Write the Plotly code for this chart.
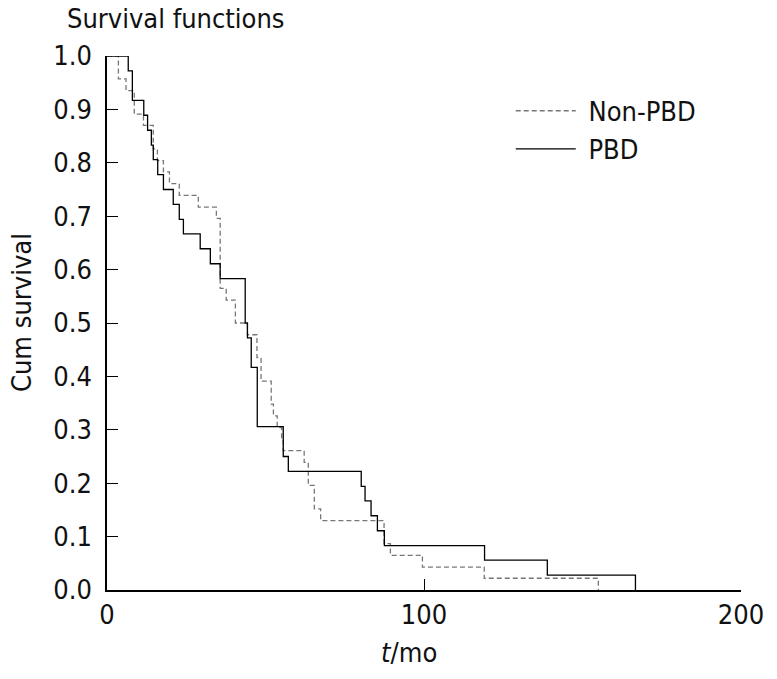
import plotly.graph_objects as go

# Kaplan-Meier step data
pbd_t = [0, 6.7, 8.0, 11.6, 12.8, 14.0, 14.6, 16.0, 17.8, 20.9, 22.8, 24.1, 29.4, 32.6,
         35.7, 43.6, 44.3, 45.5, 47.4, 55.6, 57.2, 80.2, 81.4, 83.3, 85.3, 87.5,
         119.1, 138.9, 166.7]
pbd_s = [1.0, 0.972, 0.917, 0.889, 0.861, 0.833, 0.806, 0.778, 0.750, 0.722, 0.694, 0.667,
         0.639, 0.611, 0.583, 0.500, 0.472, 0.417, 0.306, 0.250, 0.222, 0.194, 0.167,
         0.139, 0.111, 0.083, 0.056, 0.028, 0.0]

non_t = [0, 3.6, 6.0, 8.6, 11.5, 14.6, 15.9, 17.8, 19.7, 22.8, 28.8, 34.5, 35.7, 37.6,
         40.5, 44.3, 47.3, 48.6, 51.8, 52.5, 53.7, 55.1, 55.6, 62.2, 63.5, 65.4, 67.4,
         87.4, 89.4, 99.5, 119.0, 155.0]
non_s = [1.0, 0.957, 0.935, 0.891, 0.870, 0.826, 0.804, 0.783, 0.761, 0.739, 0.717, 0.696,
         0.565, 0.543, 0.500, 0.478, 0.435, 0.391, 0.348, 0.326, 0.304, 0.283, 0.261,
         0.239, 0.196, 0.152, 0.130, 0.087, 0.065, 0.043, 0.022, 0.0]

series_names = ["Non-PBD", "PBD"]

x_ticks = [0, 100, 200]
y_ticks = [0.0, 0.1, 0.2, 0.3, 0.4, 0.5, 0.6, 0.7, 0.8, 0.9, 1.0]
y_tick_text = [f"{v:.1f}" for v in y_ticks]

FONT = "DejaVu Sans Condensed, DejaVu Sans, sans-serif"
FS = 27

fig = go.Figure()
fig.add_trace(go.Scatter(x=non_t, y=non_s, mode="lines", line_shape="hv",
                         name="\u00a0" + series_names[0],
                         line=dict(color="#777777", width=1.3, dash="5px,3px")))
fig.add_trace(go.Scatter(x=pbd_t, y=pbd_s, mode="lines", line_shape="hv",
                         name="\u00a0" + series_names[1],
                         line=dict(color="black", width=1.3)))

fig.update_layout(
    width=777, height=679,
    margin=dict(l=107, r=36, t=56, b=89),
    paper_bgcolor="white", plot_bgcolor="white",
    font=dict(family=FONT, size=FS, color="#111111"),
    showlegend=True,
    legend=dict(x=0.64 - 2 / 634, y=0.95 - 4 / 534, xanchor="left", yanchor="top",
                bgcolor="rgba(0,0,0,0)", font=dict(size=FS), itemwidth=60,
                tracegroupgap=0),
    xaxis=dict(range=[0, 200], tickvals=x_ticks, ticks="inside", ticklen=11,
               tickcolor="black", tickwidth=1.3, showline=True, linecolor="black",
               linewidth=1.5, showgrid=False, zeroline=False, ticklabelstandoff=0,
               tickfont=dict(size=FS)),
    yaxis=dict(range=[0, 1], tickvals=y_ticks, ticktext=y_tick_text, ticks="inside",
               ticklen=11, tickcolor="black", tickwidth=1.3, showline=True,
               linecolor="black", linewidth=1.5, showgrid=False, zeroline=False,
               ticklabelstandoff=8, tickfont=dict(size=FS)),
    annotations=[
        dict(text="Survival functions", xref="paper", yref="paper",
             x=(65 - 107) / 634, y=1 + (56 - 18) / 534, xanchor="left", yanchor="middle",
             showarrow=False, font=dict(size=FS)),
        dict(text="Cum survival", xref="paper", yref="paper", textangle=-90,
             x=(21 - 107) / 634, y=(590 - 313) / 534, xanchor="center", yanchor="middle",
             showarrow=False, font=dict(size=FS)),
        dict(text="<i>t</i>/mo", xref="paper", yref="paper",
             x=(409 - 107) / 634, y=-(652 - 590) / 534, xanchor="center", yanchor="middle",
             showarrow=False, font=dict(size=FS)),
    ],
)

fig.write_html("out.html", config={"displayModeBar": False},
               post_script="document.body.style.margin='0px';")
